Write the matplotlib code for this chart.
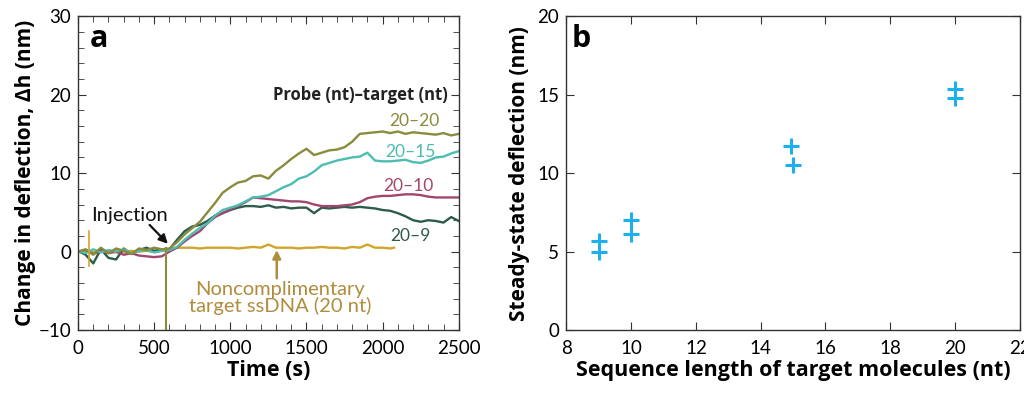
import matplotlib
matplotlib.use("Agg")
from matplotlib import pyplot as plt
from matplotlib.ticker import MultipleLocator

plt.rcParams["font.family"] = ["Lato", "DejaVu Sans"]
BOLD = ["Open Sans", "DejaVu Sans"]

# panel a: deflection traces, sampled every 50 s
time_s = [0, 50, 100, 150, 200, 250, 300, 350, 400, 450,
          500, 550, 600, 650, 700, 750, 800, 850, 900, 950,
          1000, 1050, 1100, 1150, 1200, 1250, 1300, 1350, 1400, 1450,
          1500, 1550, 1600, 1650, 1700, 1750, 1800, 1850, 1900, 1950,
          2000, 2050, 2100, 2150, 2200, 2250, 2300, 2350, 2400, 2450, 2500]

h_20_20 = [0.0, 0.3, -0.4, 0.5, -0.2, 0.4, 0.1, -0.3, 0.4, 0.2,
           0.5, 0.3, 0.4, 1.2, 2.2, 3.0, 3.8, 5.0, 6.2, 7.5,
           8.2, 8.8, 9.0, 9.6, 9.7, 9.3, 10.3, 11.0, 11.8, 12.5,
           13.1, 12.3, 12.6, 12.9, 13.0, 13.3, 14.0, 15.0, 15.1, 15.2,
           15.3, 15.1, 15.3, 15.0, 15.2, 15.1, 15.0, 14.9, 15.1, 14.8, 15.0]

h_20_15 = [0.1, -0.2, 0.3, -0.1, 0.2, 0.0, 0.3, -0.2, 0.1, 0.2,
           -0.1, 0.1, 0.2, 0.6, 1.5, 2.3, 3.0, 3.6, 4.6, 5.3,
           5.6, 5.9, 6.4, 6.9, 7.0, 7.2, 7.7, 8.2, 8.6, 9.3,
           9.6, 10.2, 11.0, 11.3, 11.6, 11.8, 12.0, 12.1, 12.6, 11.6,
           11.5, 11.5, 11.6, 11.7, 11.4, 11.3, 11.6, 12.0, 12.1, 12.5, 12.8]

h_20_10 = [0.0, 0.2, -0.3, 0.1, -0.2, 0.0, -0.4, -0.2, -0.5, -0.6,
           -0.7, -0.6, 0.0, 0.5, 1.3, 2.0, 2.6, 3.6, 4.4, 4.9,
           5.4, 5.8, 6.3, 6.9, 6.8, 6.7, 6.6, 6.5, 6.4, 6.4,
           6.3, 6.0, 5.8, 5.8, 5.8, 5.9, 6.0, 6.3, 6.8, 7.0,
           7.1, 7.1, 7.2, 7.3, 7.3, 7.2, 7.0, 6.9, 6.9, 6.9, 6.9]

h_20_9 = [0.1, -0.4, -1.5, 0.3, -0.8, -1.0, 0.4, -0.3, 0.2, 0.5,
          0.1, 0.3, 0.3, 1.5, 2.6, 3.2, 3.4, 3.9, 4.6, 4.9,
          5.3, 5.6, 5.8, 5.8, 5.7, 5.9, 5.6, 5.7, 5.5, 5.6,
          5.6, 4.9, 5.6, 5.5, 5.6, 5.7, 5.6, 5.7, 5.6, 5.5,
          5.3, 5.2, 4.9, 4.5, 4.0, 3.8, 4.0, 3.9, 3.7, 4.4, 3.9]

time_noncomp = [0, 50, 100, 150, 200, 250, 300, 350, 400, 450,
                500, 550, 600, 650, 700, 750, 800, 850, 900, 950,
                1000, 1050, 1100, 1150, 1200, 1250, 1300, 1350, 1400, 1450,
                1500, 1550, 1600, 1650, 1700, 1750, 1800, 1850, 1900, 1950,
                2000, 2050, 2075]
h_noncomp = [0.0, 0.1, -0.1, 0.0, 0.1, -0.1, 0.0, 0.1, 0.0, 0.1,
             0.0, 0.1, 0.3, 0.5, 0.5, 0.5, 0.4, 0.5, 0.5, 0.5,
             0.5, 0.4, 0.5, 0.6, 0.5, 0.9, 0.5, 0.5, 0.5, 0.4,
             0.5, 0.5, 0.6, 0.5, 0.5, 0.4, 0.6, 0.5, 0.9, 0.5,
             0.5, 0.4, 0.5]

# spikes in the raw traces
spike_inj_t = [580, 580]
spike_inj_h = [0.5, -10.0]
spike_start_t = [75, 75]
spike_start_h = [-1.8, 2.6]

# panel b: steady-state deflection
seq_len = [9, 9, 10, 10, 14.95, 15, 20, 20]
steady_defl = [5.7, 5.0, 7.0, 6.15, 11.7, 10.5, 15.35, 14.8]

c_2020 = "#8a8b3c"
c_2015 = "#4cbdb0"
c_2010 = "#a2466f"
c_209 = "#2e5c4a"
c_nc = "#cfa62a"
c_nc_text = "#b08d3c"

fig = plt.figure(figsize=(10.24, 3.93), dpi=100)
ax = fig.add_axes([0.0762, 0.160, 0.3718, 0.799])
bx = fig.add_axes([0.553, 0.160, 0.443, 0.799])

lw = 1.7
ax.plot(time_noncomp, h_noncomp, color=c_nc, lw=lw)
ax.plot(time_s, h_20_9, color=c_209, lw=lw)
ax.plot(time_s, h_20_10, color=c_2010, lw=lw)
ax.plot(time_s, h_20_15, color=c_2015, lw=lw)
ax.plot(time_s, h_20_20, color=c_2020, lw=lw)
ax.plot(spike_inj_t, spike_inj_h, color=c_2020, lw=1.5)
ax.plot(spike_start_t, spike_start_h, color=c_nc, lw=1.2)

ax.set_xlim(0, 2500)
ax.set_ylim(-10, 30)
ax.xaxis.set_major_locator(MultipleLocator(500))
ax.xaxis.set_minor_locator(MultipleLocator(100))
ax.yaxis.set_major_locator(MultipleLocator(10))
ax.yaxis.set_minor_locator(MultipleLocator(2))
ax.set_yticks([-10, 0, 10, 20, 30])
ax.set_yticklabels(["\u221210", "0", "10", "20", "30"])
ax.tick_params(which="both", direction="in", top=True, right=True,
               labelsize=13.5, color="#333333", pad=5)
ax.tick_params(axis="x", which="both", pad=7)
ax.tick_params(which="major", length=6)
ax.tick_params(which="minor", length=4)
ax.set_xlabel("Time (s)", fontsize=15.5, fontweight="bold", family=BOLD,
              labelpad=2)
ax.set_ylabel("Change in deflection, \u0394h (nm)", fontsize=15,
              fontweight="bold", family=BOLD, labelpad=2)

ax.text(0.03, 0.975, "a", transform=ax.transAxes, fontsize=22,
        fontweight="bold", family=BOLD, va="top", ha="left")
ax.text(2430, 20.0, "Probe (nt)\u2013target (nt)", fontsize=12,
        fontweight="bold", family=BOLD, ha="right", va="center",
        color="#222222")
ax.text(2210, 16.7, "20\u201320", color=c_2020, fontsize=12.5, ha="center", va="center")
ax.text(2180, 12.7, "20\u201315", color=c_2015, fontsize=12.5, ha="center", va="center")
ax.text(2170, 8.3, "20\u201310", color=c_2010, fontsize=12.5, ha="center", va="center")
ax.text(2185, 2.0, "20\u20139", color=c_209, fontsize=12.5, ha="center", va="center")

ax.text(335, 4.6, "Injection", fontsize=14.5, ha="center", va="center",
        color="#111111")
ax.annotate("", xy=(590, 1.0), xytext=(470, 3.4),
            arrowprops=dict(arrowstyle="-|>", color="#111111", lw=1.6,
                            shrinkA=0, shrinkB=0, mutation_scale=13))
ax.annotate("", xy=(1305, 0.2), xytext=(1305, -3.4),
            arrowprops=dict(arrowstyle="-|>", color=c_nc_text, lw=1.8,
                            shrinkA=0, shrinkB=0, mutation_scale=12))
ax.text(1325, -5.9, "Noncomplimentary\ntarget ssDNA (20 nt)", fontsize=14.5,
        color=c_nc_text, ha="center", va="center", linespacing=0.95)

bx.plot(seq_len, steady_defl, linestyle="none", marker="+", markersize=12,
        markeredgewidth=2.2, color="#1cb0ec")
bx.set_xlim(8, 22)
bx.set_ylim(0, 20)
bx.xaxis.set_major_locator(MultipleLocator(2))
bx.yaxis.set_major_locator(MultipleLocator(5))
bx.tick_params(direction="in", top=True, right=True, labelsize=13.5,
               length=6, color="#333333", pad=5)
bx.tick_params(axis="x", pad=7)
bx.set_xlabel("Sequence length of target molecules (nt)", fontsize=15.5,
              fontweight="bold", family=BOLD, labelpad=2)
bx.set_ylabel("Steady-state deflection (nm)", fontsize=15,
              fontweight="bold", family=BOLD, labelpad=5)
bx.text(0.012, 0.975, "b", transform=bx.transAxes, fontsize=22,
        fontweight="bold", family=BOLD, va="top", ha="left")

for a in (ax, bx):
    for s in a.spines.values():
        s.set_color("#333333")
        s.set_linewidth(1.0)

fig.savefig("out.png", dpi=100)
